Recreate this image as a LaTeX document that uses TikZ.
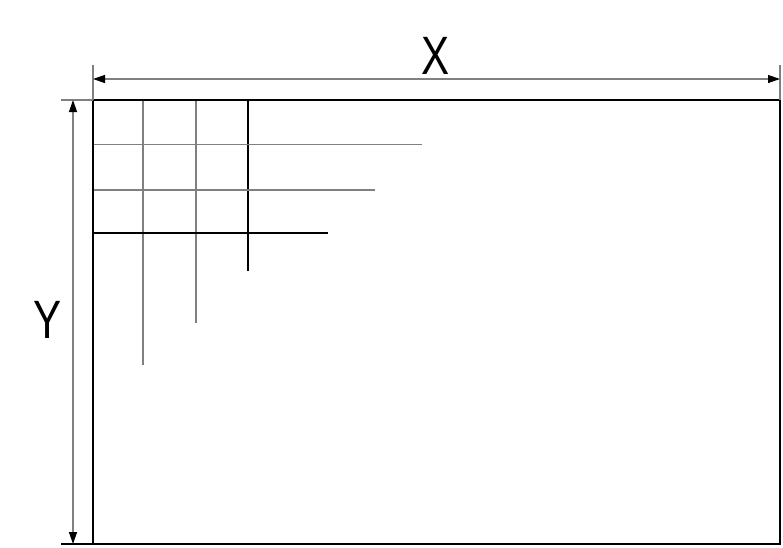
\documentclass[tikz,border=0pt]{standalone}
\usepackage{fontspec}
\setmainfont{Liberation Sans}
\usetikzlibrary{arrows.meta}
\tikzset{
  dimline/.style={draw=gray,line width=1.3pt,{Triangle[black,length=12pt,width=8pt]}-{Triangle[black,length=12pt,width=8pt]}},
  extline/.style={draw=gray,line width=1.3pt},
  gridline/.style={line width=1.2pt},
  dimlabel/.style={font=\fontsize{54}{54}\selectfont,xscale=0.78,inner sep=0pt}
}
\begin{document}
\begin{tikzpicture}[x=1pt,y=-1pt]
\useasboundingbox (0,0) rectangle (783,547);
\coordinate (tl) at (93,100);
\coordinate (br) at (780,544);
% grid in the corner
\draw[gridline,gray] (143,100) -- (143,365);
\draw[gridline,gray] (196,100) -- (196,323);
\draw[gridline,black] (248,100) -- (248,271);
\draw[gridline,gray] (93,144.5) -- (422,144.5);
\draw[gridline,gray] (93,190) -- (375,190);
\draw[gridline,black] (93,233) -- (328,233);
% frame
\draw[line width=2.2pt] (tl) rectangle (br);
% extension lines
\draw[extline] (93,65) -- (tl);
\draw[extline] (780,65) -- (780,100);
\draw[extline] (61,100) -- (tl);
\draw[extline,black] (61,544) -- (93,544);
% dimensions
\coordinate (xa) at (93,79);
\coordinate (xb) at (780,79);
\coordinate (ya) at (73,100);
\coordinate (yb) at (73,544);
\draw[dimline] (xa) -- (xb);
\draw[dimline] (ya) -- (yb);
\node[dimlabel] (xlab) at (436,56) {X};
\node[dimlabel] (ylab) at (48,320) {Y};
\end{tikzpicture}
\end{document}
